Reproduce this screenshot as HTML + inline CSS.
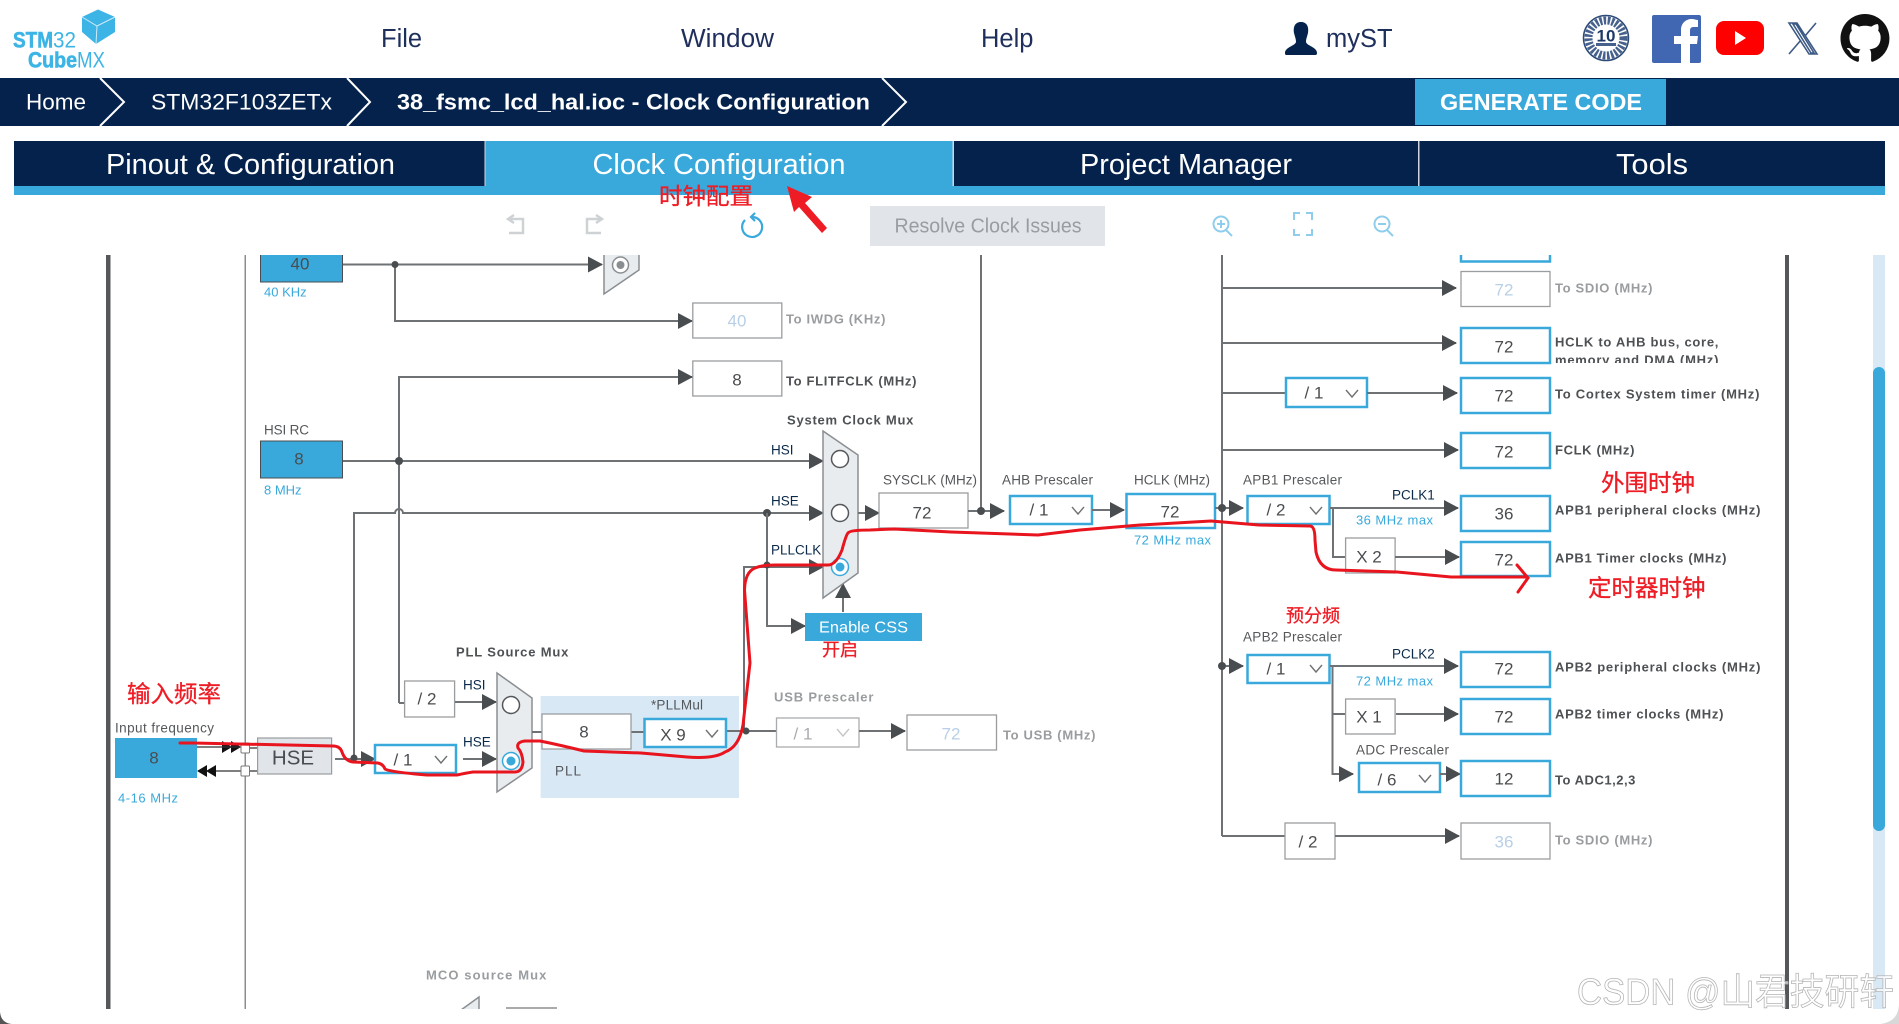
<!DOCTYPE html>
<html><head><meta charset="utf-8"><style>
html,body{margin:0;padding:0;background:#fff;width:1899px;height:1024px;overflow:hidden}
svg{display:block;font-family:"Liberation Sans","Noto Sans CJK SC",sans-serif}
.w{fill:none;stroke:#6f7274;stroke-width:2}
.a{fill:none;stroke:#6f7274;stroke-width:2;marker-end:url(#ar)}
.bb{fill:#fff;stroke:#39a9dc;stroke-width:2.5}
.gb{fill:#fff;stroke:#9a9da0;stroke-width:1.3}
.v{font-size:17px;fill:#4a4d50;text-anchor:middle;dominant-baseline:central}
.vg{font-size:17px;fill:#b9cfe6;text-anchor:middle;dominant-baseline:central}
.l{font-size:13px;font-weight:bold;fill:#4e5154;dominant-baseline:central;letter-spacing:.6px}
.lg{font-size:13px;font-weight:bold;fill:#9a9da0;dominant-baseline:central;letter-spacing:.6px}
.t{font-size:13.5px;fill:#55585b;dominant-baseline:central}
.k{font-size:13.5px;fill:#0b2a4a;dominant-baseline:central}
.c{font-size:13px;fill:#39a9dc;dominant-baseline:central}
.chev{fill:none;stroke:#6f7274;stroke-width:1.4}
.r{fill:#ee1c25;stroke:#ee1c25;stroke-width:.3;dominant-baseline:central}
.nav{font-size:25.5px;fill:#1f2f5c;dominant-baseline:central}
.tab{font-size:29px;fill:#fff;text-anchor:middle;dominant-baseline:central}
.crumb{font-size:22.5px;fill:#fff;dominant-baseline:central}
.mux{fill:#e9ecef;stroke:#8b8e91;stroke-width:1.5}
.ic{fill:none;stroke:#8fcdec;stroke-width:2}
.lg1{fill:#3cb4e6;dominant-baseline:central;font-size:22px}
</style></head><body>
<svg width="1899" height="1024" viewBox="0 0 1899 1024" xmlns="http://www.w3.org/2000/svg">
<defs>
<marker id="ar" markerUnits="userSpaceOnUse" markerWidth="15" markerHeight="16" refX="14" refY="8" orient="auto"><path d="M0 0L15 8L0 16Z" fill="#4a4d50"/></marker>
<clipPath id="dg"><rect x="0" y="255" width="1899" height="754"/></clipPath>
<clipPath id="hb"><rect x="1550" y="328" width="260" height="35"/></clipPath>
</defs>

<!-- Logo -->
<path d="M98 9.500L115 17V32L96 44L82 32V17Z" fill="#3cb4e6"/>
<path d="M82 17L97 26L115 17M97 26L96 44" fill="none" stroke="#cfeaf8" stroke-width="1"/>
<text class="lg1" x="13" y="40" font-weight="bold" stroke="#3cb4e6" stroke-width=".6" textLength="40" lengthAdjust="spacingAndGlyphs">STM</text>
<text class="lg1" x="53" y="40" textLength="23" lengthAdjust="spacingAndGlyphs">32</text>
<text class="lg1" x="28" y="60" font-weight="bold" stroke="#3cb4e6" stroke-width=".6" textLength="49" lengthAdjust="spacingAndGlyphs">Cube</text>
<text class="lg1" x="77" y="60" textLength="28" lengthAdjust="spacingAndGlyphs">MX</text>

<text class="nav" x="381" y="39">File</text>
<text class="nav" x="681" y="39" textLength="93" lengthAdjust="spacingAndGlyphs">Window</text>
<text class="nav" x="981" y="39">Help</text>
<text class="nav" x="1326" y="39">myST</text>
<!-- person -->
<path d="M1301 22c6 0 8 5 7 11c-1 4-2 6-2 9c1 4 11 5 11 11c0 2-1 2-3 2h-27c-2 0-2-1-2-2c0-6 10-7 11-11c0-3-1-5-2-9c-1-6 1-11 7-11z" fill="#04224b"/>
<!-- badge -->
<circle cx="1606" cy="38" r="22.500" fill="#fff" stroke="#2d4a78" stroke-width="1.500"/>
<circle cx="1606" cy="38" r="17.500" fill="none" stroke="#46618c" stroke-width="8" stroke-dasharray="2.500 1.500"/>
<circle cx="1606" cy="38" r="13" fill="#fff"/>
<text x="1606" y="36" font-size="17" font-weight="bold" fill="#1e3a66" text-anchor="middle" dominant-baseline="central">10</text>
<rect x="1596" y="43" width="20" height="3" fill="#46618c"/>
<!-- facebook -->
<rect x="1652" y="15" width="49" height="48" rx="2" fill="#4267b2"/>
<path d="M1690 63V44h7l1-8h-8v-5c0-3 1-4 4-4h4v-7c-2 0-4-1-6-1c-6 0-11 4-11 11v6h-7v8h7v19z" fill="#fff"/>
<!-- youtube -->
<rect x="1716" y="21" width="48" height="34" rx="8" fill="#f00"/>
<path d="M1735 31L1746 38L1735 45Z" fill="#fff"/>
<!-- X -->
<path d="M1789 23h8l20 31h-8zM1793 24h3l18 29h-3zM1816 23L1805 36M1789 54l12-14" fill="none" stroke="#3d5a86" stroke-width="1.600"/>
<!-- github -->
<path transform="translate(1840.500 14) scale(3.060)" fill="#111" d="M8 0C3.58 0 0 3.58 0 8c0 3.54 2.29 6.53 5.47 7.59.4.07.55-.17.55-.38 0-.19-.01-.82-.01-1.490-2.010.37-2.530-.49-2.690-.94-.09-.23-.48-.94-.82-1.130-.28-.15-.68-.52-.01-.53.63-.01 1.080.58 1.230.82.72 1.210 1.870.87 2.330.66.07-.52.28-.87.51-1.070-1.780-.2-3.640-.89-3.640-3.950 0-.87.31-1.590.82-2.150-.08-.2-.36-1.020.08-2.120 0 0 .67-.21 2.200.82.64-.18 1.320-.27 2-.27.68 0 1.360.09 2 .27 1.530-1.040 2.200-.82 2.200-.82.44 1.100.16 1.920.08 2.120.51.56.82 1.270.82 2.150 0 3.070-1.870 3.750-3.650 3.950.29.25.54.73.54 1.480 0 1.070-.01 1.930-.01 2.200 0 .21.15.46.55.38A8.013 8.013 0 0016 8c0-4.420-3.580-8-8-8z"/>

<!-- Breadcrumb -->
<rect x="0" y="78" width="1899" height="48" fill="#04224b"/>
<polyline points="100,78 124,102 100,126" fill="none" stroke="#fff" stroke-width="2"/>
<polyline points="347,78 370,102 347,126" fill="none" stroke="#fff" stroke-width="2"/>
<polyline points="882,78 906,102 882,126" fill="none" stroke="#fff" stroke-width="2"/>
<text class="crumb" x="26" y="102">Home</text>
<text class="crumb" x="151" y="102" textLength="181" lengthAdjust="spacingAndGlyphs">STM32F103ZETx</text>
<text class="crumb" x="397" y="102" font-weight="bold" textLength="473" lengthAdjust="spacingAndGlyphs">38_fsmc_lcd_hal.ioc - Clock Configuration</text>
<rect x="1415" y="79" width="251" height="46" fill="#39a9dc"/>
<text x="1541" y="102" font-size="23" font-weight="bold" fill="#fff" text-anchor="middle" dominant-baseline="central" textLength="202" lengthAdjust="spacingAndGlyphs">GENERATE CODE</text>

<!-- Tabs -->
<rect x="14" y="141" width="1871" height="54" fill="#39a9dc"/>
<rect x="14" y="141" width="471" height="45" fill="#04224b"/>
<rect x="954" y="141" width="931" height="45" fill="#04224b"/>
<rect x="1418" y="141" width="1.500" height="45" fill="#cfd6de"/>
<rect x="484.500" y="141" width="1" height="45" fill="#cfd6de"/>
<rect x="952.500" y="141" width="1.500" height="45" fill="#cfd6de"/>
<text class="tab" x="250.500" y="165" textLength="289" lengthAdjust="spacingAndGlyphs">Pinout &amp; Configuration</text>
<text class="tab" x="719" y="165" textLength="253" lengthAdjust="spacingAndGlyphs">Clock Configuration</text>
<text class="tab" x="1186" y="165" textLength="212" lengthAdjust="spacingAndGlyphs">Project Manager</text>
<text class="tab" x="1652" y="165" textLength="72" lengthAdjust="spacingAndGlyphs">Tools</text>

<!-- Toolbar -->
<rect x="870" y="206" width="235" height="40" fill="#e1e4e8"/>
<text x="988" y="226.500" font-size="20" fill="#9a9da0" text-anchor="middle" dominant-baseline="central" textLength="187" lengthAdjust="spacingAndGlyphs">Resolve Clock Issues</text>
<path d="M508 219h15v14h-14M514 215l-6 4l6 4" fill="none" stroke="#cfd2d5" stroke-width="2.500"/>
<path d="M602 219h-15v14h14M596 215l6 4l-6 4" fill="none" stroke="#cfd2d5" stroke-width="2.500"/>
<path d="M752 217A10 10 0 1 1 745 220M755 213l-4 4l4 4" fill="none" stroke="#39a9dc" stroke-width="2.200"/>
<circle cx="1221" cy="224" r="7.500" class="ic"/><path d="M1226 230l6 6M1217 224h8M1221 220v8" class="ic"/>
<path d="M1294 220v-7h6M1306 213h6v7M1312 229v6h-6M1300 235h-6v-6" class="ic"/>
<circle cx="1382" cy="224" r="7.500" class="ic"/><path d="M1387 230l6 6M1378 224h8" class="ic"/>

<!-- Diagram -->
<g clip-path="url(#dg)">
<rect x="106" y="255" width="4.500" height="754" fill="#55585b"/>
<rect x="244.500" y="255" width="1.500" height="754" fill="#8b8e91"/>
<rect x="1785" y="255" width="4" height="754" fill="#55585b"/>
<rect x="1873" y="255" width="12" height="754" fill="#d9e8f5"/>
<rect x="1873" y="367" width="12" height="464" rx="6" fill="#39a9dc"/>

<!-- LSI -->
<rect x="260.500" y="240" width="82" height="42" fill="#39a9dc" stroke="#4a4d50" stroke-width="1"/>
<text class="v" x="300" y="264" font-size="16">40</text>
<text class="c" x="264" y="292">40 KHz</text>
<path class="a" d="M343 264.500H602"/>
<path class="a" d="M395 264.500V321H692"/>
<circle cx="395" cy="264.500" r="3.500" fill="#4a4d50"/>
<path class="mux" d="M604 240H639V270L604 294Z"/>
<circle cx="620.500" cy="265" r="8" fill="#fff" stroke="#8b8e91" stroke-width="1.500"/><circle cx="620.500" cy="265" r="4" fill="#8b8e91"/>
<rect class="gb" x="692.800" y="303" width="89" height="35"/><text class="vg" x="737" y="321">40</text>
<text class="lg" x="786" y="319" textLength="100">To IWDG (KHz)</text>
<rect class="gb" x="692.800" y="361" width="89" height="35"/><text class="v" x="737" y="380">8</text>
<text class="l" x="786" y="381" textLength="131">To FLITFCLK (MHz)</text>
<path class="a" d="M399 703V377H692"/>

<!-- HSI -->
<text class="t" x="264" y="430" textLength="45">HSI RC</text>
<rect x="260.500" y="441" width="82" height="37" fill="#39a9dc" stroke="#4a4d50" stroke-width="1"/>
<text class="v" x="299" y="459" font-size="16">8</text>
<text class="c" x="264" y="490">8 MHz</text>
<path class="a" d="M343 461H823"/>
<circle cx="399" cy="461" r="4" fill="#4a4d50"/>

<!-- HSE wire -->
<path class="a" d="M354 758V513H395a4 4 0 0 1 8 0H823"/>
<circle cx="767" cy="513" r="4" fill="#4a4d50"/>
<path class="a" d="M767 513V626H805"/>
<path class="a" d="M744 731V567H823"/>
<circle cx="767" cy="565" r="3.500" fill="#4a4d50"/>
<path class="a" d="M843 612V584"/>

<!-- Sys mux -->
<text class="l" x="787" y="420" textLength="127">System Clock Mux</text>
<text class="k" x="771" y="450">HSI</text>
<text class="k" x="771" y="501">HSE</text>
<text class="k" x="771" y="550">PLLCLK</text>
<path class="mux" d="M823 431L858 455V573L823 598Z"/>
<circle cx="840" cy="459" r="8.500" fill="#fff" stroke="#55585b" stroke-width="1.500"/>
<circle cx="840" cy="513" r="8.500" fill="#fff" stroke="#55585b" stroke-width="1.500"/>
<circle cx="840" cy="567" r="8.500" fill="#fff" stroke="#39a9dc" stroke-width="1.500"/><circle cx="840" cy="567" r="4.500" fill="#39a9dc"/>
<rect x="805" y="613" width="117" height="28" fill="#39a9dc"/>
<text x="863.500" y="628" font-size="16" fill="#fff" text-anchor="middle" dominant-baseline="central" textLength="89" lengthAdjust="spacingAndGlyphs">Enable CSS</text>

<!-- SYSCLK to AHB -->
<path class="a" d="M858 513H879"/>
<text class="t" x="883" y="480" textLength="94">SYSCLK (MHz)</text>
<rect class="gb" x="879" y="493" width="89" height="35"/><text class="v" x="922" y="513">72</text>
<path class="w" d="M981 255V511"/>
<path class="a" d="M968 511H1004"/>
<circle cx="981" cy="511" r="4" fill="#4a4d50"/>
<text class="t" x="1002" y="480" textLength="91">AHB Prescaler</text>
<rect class="bb" x="1010" y="496" width="82" height="28"/><text class="v" x="1039" y="510">/ 1</text><polyline class="chev" points="1072,507 1078,514 1084,507"/>
<path class="a" d="M1092 510H1124"/>
<text class="t" x="1134" y="480" textLength="76">HCLK (MHz)</text>
<rect class="bb" x="1126.500" y="494" width="88.500" height="34"/><text class="v" x="1170" y="512">72</text>
<text class="c" x="1134" y="540" textLength="77">72 MHz max</text>
<path class="w" d="M1222 255V836"/>
<path class="a" d="M1215 508H1243"/><circle cx="1222" cy="508" r="4" fill="#4a4d50"/>

<!-- APB1 -->
<text class="t" x="1243" y="480" textLength="99">APB1 Prescaler</text>
<rect class="bb" x="1247.500" y="496" width="82" height="28"/><text class="v" x="1276" y="510">/ 2</text><polyline class="chev" points="1310,507 1316,514 1322,507"/>
<text class="k" x="1392" y="495">PCLK1</text>
<path class="a" d="M1330 508H1458"/>
<text class="c" x="1356" y="520" textLength="77">36 MHz max</text>
<path class="w" d="M1333 508V557H1345"/>
<rect class="gb" x="1345.600" y="538" width="49.500" height="35"/><text class="v" x="1369" y="557">X 2</text>
<path class="a" d="M1395 557H1459"/>
<rect class="bb" x="1461" y="496" width="89" height="35"/><text class="v" x="1504" y="514">36</text>
<text class="l" x="1555" y="510" textLength="206">APB1 peripheral clocks (MHz)</text>
<rect class="bb" x="1461" y="542" width="89" height="34"/><text class="v" x="1504" y="560">72</text>
<text class="l" x="1555" y="558" textLength="172">APB1 Timer clocks (MHz)</text>

<!-- HCLK branch -->
<rect class="bb" x="1461" y="240" width="89" height="21.500"/>
<path class="a" d="M1222 288H1456"/>
<rect class="gb" x="1461" y="271.500" width="89" height="35"/><text class="vg" x="1504" y="290">72</text>
<text class="lg" x="1555" y="288" textLength="98">To SDIO (MHz)</text>
<path class="a" d="M1222 343H1456"/>
<rect class="bb" x="1461" y="328" width="89" height="35"/><text class="v" x="1504" y="347">72</text>
<text class="l" x="1555" y="342" textLength="164">HCLK to AHB bus, core,</text>
<g clip-path="url(#hb)"><text class="l" x="1555" y="360" textLength="164">memory and DMA (MHz)</text></g>
<path class="w" d="M1222 393H1286"/>
<rect class="bb" x="1286" y="378" width="81" height="29"/><text class="v" x="1314" y="393">/ 1</text><polyline class="chev" points="1346,390 1352,397 1358,390"/>
<path class="a" d="M1367 393H1457"/>
<rect class="bb" x="1461" y="378" width="89" height="35"/><text class="v" x="1504" y="396">72</text>
<text class="l" x="1555" y="394" textLength="205">To Cortex System timer (MHz)</text>
<path class="a" d="M1222 450H1458"/>
<rect class="bb" x="1461" y="433" width="89" height="35"/><text class="v" x="1504" y="452">72</text>
<text class="l" x="1555" y="450" textLength="80">FCLK (MHz)</text>

<!-- APB2 -->
<text class="t" x="1243" y="637" textLength="99">APB2 Prescaler</text>
<path class="a" d="M1222 666H1243"/><circle cx="1222" cy="666" r="4" fill="#4a4d50"/>
<rect class="bb" x="1247.500" y="655" width="82" height="28"/><text class="v" x="1276" y="669">/ 1</text><polyline class="chev" points="1310,665 1316,672 1322,665"/>
<text class="k" x="1392" y="654">PCLK2</text>
<path class="a" d="M1330 666H1458"/>
<text class="c" x="1356" y="681" textLength="77">72 MHz max</text>
<rect class="bb" x="1461" y="652" width="89" height="35"/><text class="v" x="1504" y="669">72</text>
<text class="l" x="1555" y="667" textLength="206">APB2 peripheral clocks (MHz)</text>
<path class="a" d="M1332.500 666V774H1353"/>
<path class="w" d="M1333 714H1345"/>
<rect class="gb" x="1345.600" y="699" width="49.500" height="35"/><text class="v" x="1369" y="717">X 1</text>
<path class="a" d="M1396 714H1458"/>
<rect class="bb" x="1461" y="699" width="89" height="35"/><text class="v" x="1504" y="717">72</text>
<text class="l" x="1555" y="714" textLength="169">APB2 timer clocks (MHz)</text>
<text class="t" x="1356" y="750" textLength="93">ADC Prescaler</text>
<rect class="bb" x="1359" y="763" width="81" height="29"/><text class="v" x="1387" y="780">/ 6</text><polyline class="chev" points="1419,775 1425,782 1431,775"/>
<path class="a" d="M1440 774H1460"/>
<rect class="bb" x="1461" y="761" width="89" height="35"/><text class="v" x="1504" y="779">12</text>
<text class="l" x="1555" y="780" textLength="81">To ADC1,2,3</text>
<path class="w" d="M1222 836H1285"/>
<rect class="gb" x="1285" y="823" width="50" height="36"/><text class="v" x="1308" y="842">/ 2</text>
<path class="a" d="M1335 836H1459"/>
<rect class="gb" x="1461" y="823" width="89" height="36"/><text class="vg" x="1504" y="842">36</text>
<text class="lg" x="1555" y="840" textLength="98">To SDIO (MHz)</text>

<!-- PLL section -->
<text class="l" x="456" y="652" textLength="113">PLL Source Mux</text>
<path class="w" d="M399 703H405"/>
<rect class="gb" x="404.600" y="681" width="50" height="36"/><text class="v" x="427" y="699">/ 2</text>
<path class="a" d="M455 702H496"/>
<text class="k" x="463" y="685">HSI</text>
<text class="k" x="463" y="742">HSE</text>
<path class="a" d="M335 759H375"/>
<circle cx="354" cy="758" r="3.500" fill="#4a4d50"/>
<rect class="bb" x="375" y="745" width="81" height="28"/><text class="v" x="403" y="760">/ 1</text><polyline class="chev" points="435,756 441,763 447,756"/>
<path class="a" d="M463 759H496"/>
<path class="mux" d="M497 673L532 698V768L497 792Z"/>
<circle cx="511" cy="705" r="8.500" fill="#fff" stroke="#55585b" stroke-width="1.500"/>
<circle cx="511" cy="761" r="8.500" fill="#fff" stroke="#39a9dc" stroke-width="1.500"/><circle cx="511" cy="761" r="4.500" fill="#39a9dc"/>
<rect x="540.600" y="696" width="198.400" height="102" fill="#d9e8f5"/>
<path class="w" d="M532 732H542M631 732H645M726 731H776"/>
<rect class="gb" x="542" y="714" width="89" height="35"/><text class="v" x="584" y="732">8</text>
<rect class="bb" x="644.500" y="719" width="81.500" height="28"/><text class="v" x="673" y="735">X 9</text><polyline class="chev" points="706,730 712,737 718,730"/>
<text class="t" x="651" y="705" textLength="52">*PLLMul</text>
<text class="t" x="555" y="771" textLength="26">PLL</text>
<circle cx="746" cy="731" r="3.500" fill="#4a4d50"/>

<!-- USB -->
<text class="lg" x="774" y="697" textLength="100">USB Prescaler</text>
<rect x="776.500" y="718" width="82.500" height="29" fill="#fff" stroke="#a9acaf" stroke-width="1.300"/><text class="vg" x="803" y="734" style="fill:#a9acaf">/ 1</text><polyline points="837,729 843,736 849,729" fill="none" stroke="#c4c7ca" stroke-width="1.400"/>
<path class="a" d="M859 731H905"/>
<rect class="gb" x="907" y="715" width="89.500" height="35"/><text class="vg" x="951" y="734">72</text>
<text class="lg" x="1003" y="735" textLength="93">To USB (MHz)</text>

<!-- Input -->
<text class="t" x="115" y="728" textLength="99">Input frequency</text>
<rect x="115" y="738" width="82" height="40" fill="#39a9dc"/>
<text class="v" x="154" y="758" font-size="16">8</text>
<text class="c" x="118" y="798" textLength="60">4-16 MHz</text>
<path d="M222 741L232 747L222 753ZM231 741L241 747L231 753Z" fill="#111"/>
<path d="M207 765L197 771L207 777ZM216 765L206 771L216 777Z" fill="#111"/>
<path d="M197 747H241M216 771H241M250 748H258M250 771H258" fill="none" stroke="#333" stroke-width="1.300"/>
<rect x="241" y="743" width="8.500" height="10" rx="1" fill="#fff" stroke="#777"/>
<rect x="241" y="766" width="8.500" height="10" rx="1" fill="#fff" stroke="#777"/>
<rect x="257.600" y="738" width="74" height="36" fill="#e1e4e8" stroke="#9a9da0" stroke-width="1.200"/>
<text x="293" y="758" font-size="20.500" fill="#4a4d50" text-anchor="middle" dominant-baseline="central">HSE</text>

<!-- MCO -->
<text class="lg" x="426" y="975" textLength="121">MCO source Mux</text>
<path class="mux" d="M479 1010V997L461 1010Z"/>
<path d="M506 1008H557" stroke="#8b8e91" stroke-width="1.500"/>
</g>

<!-- Red annotation -->
<path d="M180 743L193 743L333 746Q340 746 342 752Q345 761 353 762L378 763Q383 764 385 769Q390 772 427 775L457 775Q466 773 473 772L515 772Q522 772 523 762Q522 752 518 748Q516 742 525 741L540 741Q560 745 584 751L641 753L687 757Q715 759 725 752Q739 747 743 725L750 663L749 650L744.500 590Q745 572 755 568Q762 565 775 565L828 565Q836 565 842 550Q846 535 848 533Q850 530 870 530L894 529L951 532L1038 535L1080 530L1140 525L1211 521L1259 525L1310 526Q1315 526 1315 540L1316 552Q1320 570 1336 570L1397 572L1451 577L1526 577" fill="none" stroke="#e8141e" stroke-width="3" stroke-linejoin="round" stroke-linecap="round"/>
<path d="M1517 565L1528 578L1518 592" fill="none" stroke="#e8141e" stroke-width="3" stroke-linecap="round"/>
<path d="M787 186L812 197L805 203L827 228L822 233L799 207L794 212Z" fill="#ee1c25"/>
<text class="r" x="659" y="196" font-size="23" textLength="94" lengthAdjust="spacingAndGlyphs">时钟配置</text>
<text class="r" x="822" y="650" font-size="18">开启</text>
<text class="r" x="127" y="694" font-size="23.500">输入频率</text>
<text class="r" x="1601" y="483" font-size="23.500">外围时钟</text>
<text class="r" x="1588" y="588" font-size="23.500">定时器时钟</text>
<text class="r" x="1286" y="616" font-size="18">预分频</text>

<!-- Watermark -->
<text x="1577" y="992" font-size="37" fill="#fff" fill-opacity=".6" stroke="#b5b5b5" stroke-width=".8" dominant-baseline="central" textLength="317" lengthAdjust="spacingAndGlyphs">CSDN @山君技研轩</text>

<!-- Corners -->
<path d="M0 1012Q1 1023 12 1024H0Z" fill="#555"/>
<path d="M1899 1005Q1898 1022 1880 1024H1899Z" fill="#d8d8d8"/>
</svg>
</body></html>
